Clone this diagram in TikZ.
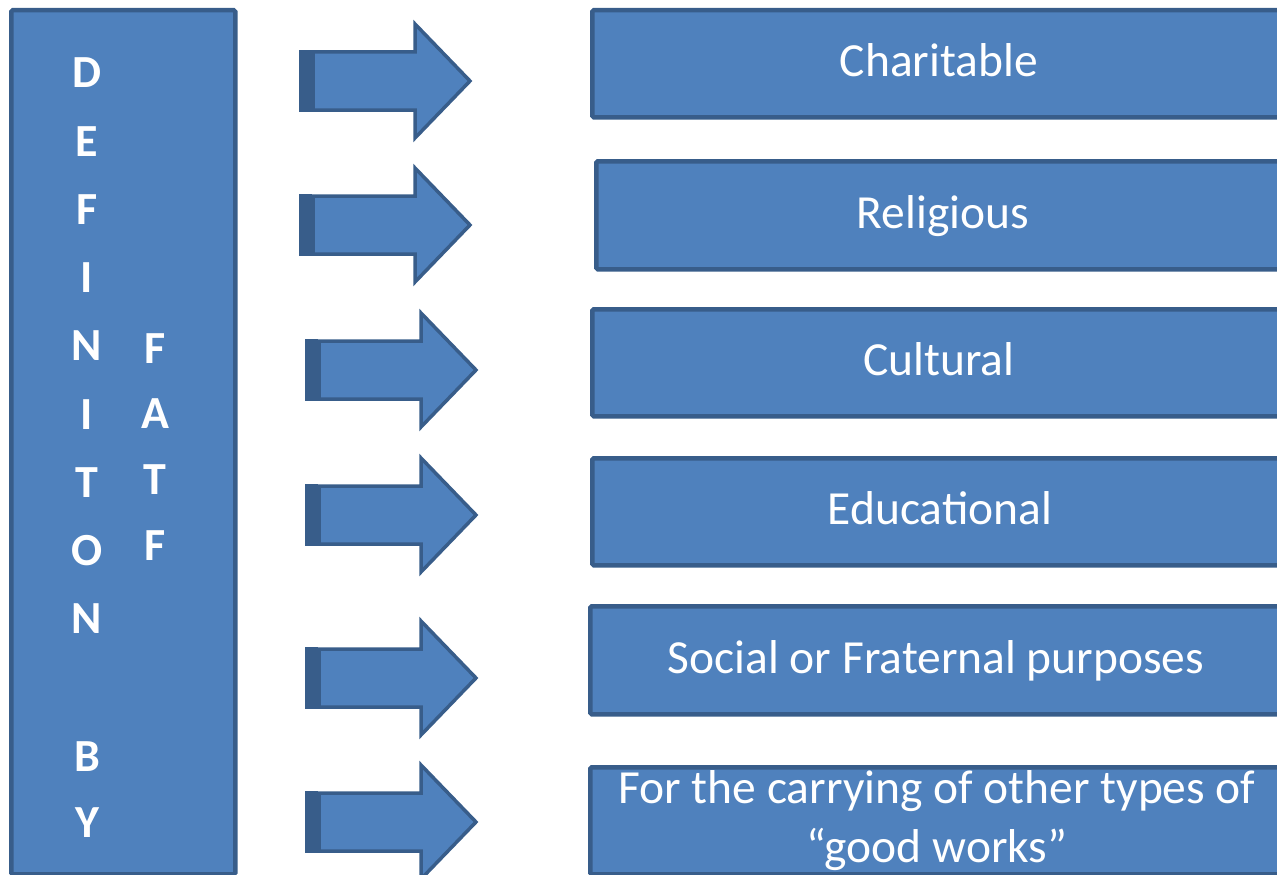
\documentclass[tikz,border=0pt]{standalone}
\usepackage{fontspec}
\setmainfont{Carlito}
\definecolor{fillb}{HTML}{4F81BD}
\definecolor{edgeb}{HTML}{385D8A}
\begin{document}
\begin{tikzpicture}[x=1pt,y=-1pt,
  box/.style={draw=edgeb,fill=fillb,line width=4.5pt,rounded corners=1.5pt,inner sep=0pt,anchor=north west},
  arr/.style={draw=edgeb,fill=fillb,line width=3.5pt,line join=miter},
  lbl/.style={text=white,font=\fontsize{47.5pt}{57pt}\selectfont,anchor=base,inner sep=0pt},
  letter/.style={text=white,font=\fontsize{46pt}{55pt}\selectfont\bfseries,anchor=base,inner sep=0pt},
  barrow/.pic={
    \filldraw[arr] (1,-29) rectangle (4,29);
    \filldraw[arr] (7.5,-29) rectangle (10.5,29);
    \filldraw[arr] (13,-29) -- (115,-29) -- (115,-57) -- (170,0) -- (115,57) -- (115,29) -- (13,29) -- cycle;
  }]
\useasboundingbox (0,0) rectangle (1277,875);
\begin{scope}
\clip (0,0) rectangle (1277,875);
% left box
\node[box,minimum width=224pt,minimum height=864pt] (def) at (9,8) {};
% right boxes
\node[box,minimum width=705pt,minimum height=107pt] (b1) at (590,8) {};
\node[box,minimum width=701pt,minimum height=108pt] (b2) at (594,159) {};
\node[box,minimum width=705pt,minimum height=107pt] (b3) at (590,307) {};
\node[box,minimum width=705pt,minimum height=107pt] (b4) at (590,456) {};
\node[box,minimum width=707pt,minimum height=108pt] (b5) at (588,604) {};
\node[box,minimum width=707pt,minimum height=107pt] (b6) at (588,765) {};
% arrows
\pic at (300,81) {barrow};
\pic at (300,225) {barrow};
\pic at (306,370) {barrow};
\pic at (306,515) {barrow};
\pic at (306,678) {barrow};
\pic at (306,822) {barrow};
\end{scope}
% labels
\node[lbl] (t1) at (939,77) {Charitable};
\node[lbl] (t2) at (943,228) {Religious};
\node[lbl] (t3) at (939,375) {Cultural};
\node[lbl] (t4) at (940,524) {Educational};
\node[lbl] (t5) at (936,673) {Social or Fraternal purposes};
\node[lbl] (t6a) at (937,803) {For the carrying of other types of};
\node[lbl] (t6b) at (937,862) {“good works”};
% vertical letters
\node[letter] (d1) at (87,88) {D};
\node[letter] (d2) at (87,156) {E};
\node[letter] (d3) at (87,224) {F};
\node[letter] (d4) at (87,292) {I};
\node[letter] (d5) at (87,360) {N};
\node[letter] (d6) at (87,429) {I};
\node[letter] (d7) at (87,497) {T};
\node[letter] (d8) at (87,565) {O};
\node[letter] (d9) at (87,633) {N};
\node[letter] (d10) at (87,771) {B};
\node[letter] (d11) at (87,837) {Y};
\node[letter] (f1) at (155,363) {F};
\node[letter] (f2) at (155,428) {A};
\node[letter] (f3) at (155,494) {T};
\node[letter] (f4) at (155,560) {F};
\end{tikzpicture}
\end{document}
